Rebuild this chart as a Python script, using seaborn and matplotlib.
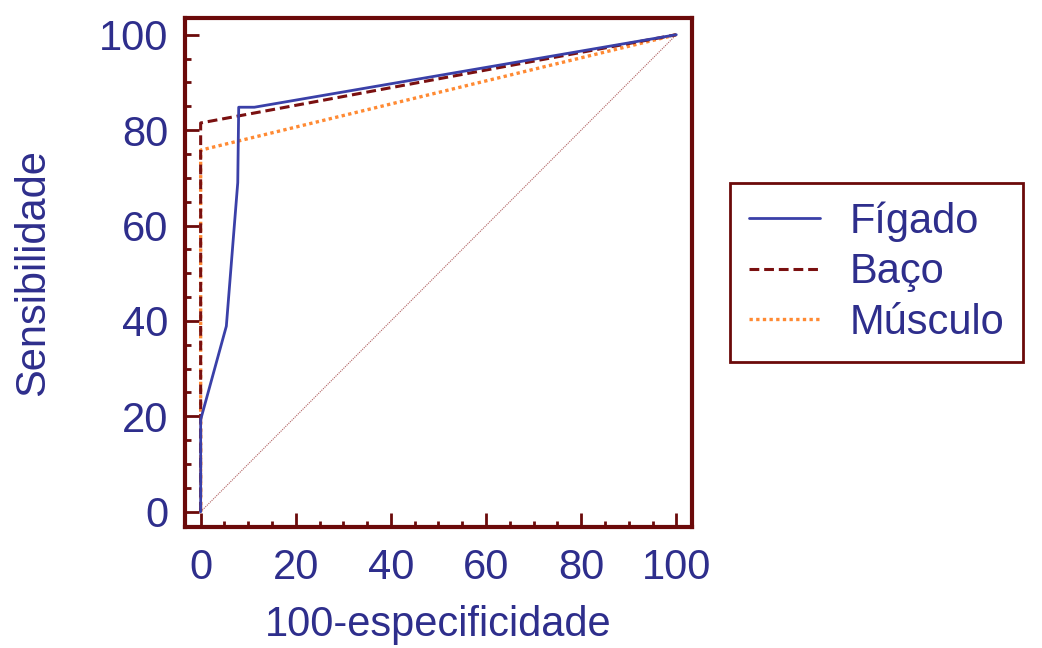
import numpy as np
import pandas as pd
import matplotlib
matplotlib.use('Agg')
import matplotlib.pyplot as plt
import seaborn as sns
from matplotlib.ticker import MultipleLocator

sns.set_style('white')
plt.rcParams['font.family'] = ['Liberation Sans', 'DejaVu Sans']

# ROC curve points (100-specificity, sensitivity)
figado_x = [0, 0, 5.4, 7.8, 8.0, 11.3, 100]
figado_y = [0, 19.3, 38.9, 69.0, 84.8, 84.8, 100]
baco_x = [0, 0, 100]
baco_y = [0, 81.5, 100]
musculo_x = [0, 0, 100]
musculo_y = [0, 75.8, 100]
diag = [0, 100]

text_col = '#2e2e8c'
frame_col = '#6b0a0a'

fig = plt.figure(figsize=(10.42, 6.48), dpi=100)
ax = fig.add_axes([0.1775, 0.1867, 0.4866, 0.7855])

kw = dict(ax=ax, sort=False, estimator=None)
sns.lineplot(x=diag, y=diag, color='#b06060', linewidth=0.8,
             linestyle=(0, (1, 1)), **kw)
sns.lineplot(x=musculo_x, y=musculo_y, color='#ff8a33', linewidth=2.4,
             linestyle=(0, (1, 1)), label='Músculo', **kw)
sns.lineplot(x=baco_x, y=baco_y, color='#7a1010', linewidth=2.2,
             linestyle=(0, (3.2, 1.6)), label='Baço', **kw)
sns.lineplot(x=figado_x, y=figado_y, color='#3a40a8', linewidth=2,
             label='Fígado', **kw)

ax.set_xlim(-3.3, 103.3)
ax.set_ylim(-3.2, 103.5)
ax.xaxis.set_major_locator(MultipleLocator(20))
ax.yaxis.set_major_locator(MultipleLocator(20))
ax.xaxis.set_minor_locator(MultipleLocator(5))
ax.yaxis.set_minor_locator(MultipleLocator(5))
ax.tick_params(which='major', direction='in', length=10, width=2,
               color=frame_col, labelsize=30, labelcolor=text_col,
               bottom=True, left=True)
ax.tick_params(axis='x', which='major', pad=15)
ax.tick_params(axis='y', which='major', pad=12)
ax.tick_params(which='minor', direction='in', length=4, width=2,
               color=frame_col, bottom=True, left=True)
for s in ax.spines.values():
    s.set_color(frame_col)
    s.set_linewidth(3)

ax.set_xlabel('100-especificidade', fontsize=30, color=text_col, labelpad=12)
ax.set_ylabel('Sensibilidade', fontsize=30, color=text_col, labelpad=33)

h, l = ax.get_legend_handles_labels()
ax.legend().remove()
order = [2, 1, 0]
leg = fig.legend([h[i] for i in order], [l[i] for i in order],
                 loc='upper left', bbox_to_anchor=(0.701, 0.718),
                 fontsize=30, frameon=True, fancybox=False, framealpha=1,
                 handlelength=1.7, handletextpad=0.7, labelspacing=0.25,
                 borderpad=0.45, borderaxespad=0)
leg.get_frame().set_edgecolor(frame_col)
leg.get_frame().set_linewidth(2)
for t in leg.get_texts():
    t.set_color(text_col)

fig.savefig('out.png', dpi=100)
